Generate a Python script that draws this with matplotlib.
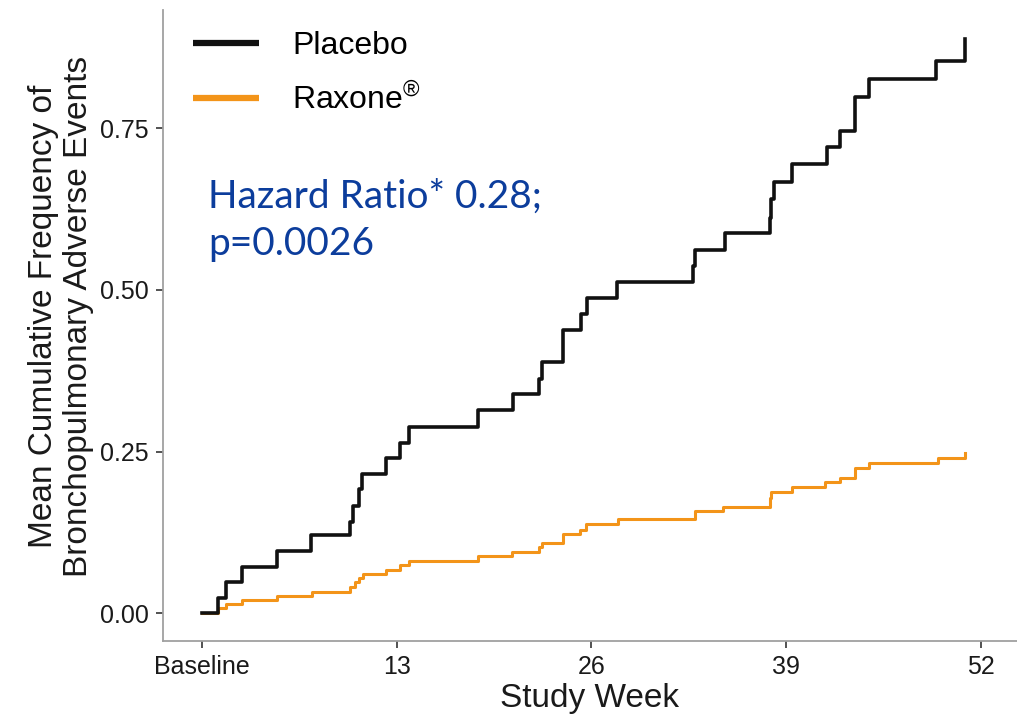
import matplotlib
matplotlib.use("Agg")
import matplotlib.pyplot as plt
from matplotlib.lines import Line2D

plt.rcParams['font.family'] = ['Liberation Sans', 'DejaVu Sans']
plt.rcParams['mathtext.fontset'] = 'custom'
plt.rcParams['mathtext.rm'] = 'Liberation Sans'
plt.rcParams['mathtext.it'] = 'Liberation Sans'
plt.rcParams['mathtext.bf'] = 'Liberation Sans'

# ---- data ----
placebo_weeks = [0, 1.07, 1.6, 2.7, 5.0, 7.3, 9.9, 10.1, 10.5, 10.7, 12.3, 13.2, 13.8,
                 18.4, 20.75, 22.5, 22.7, 24.1, 25.3, 25.7, 27.7, 32.8, 32.9, 34.9,
                 37.9, 38.0, 38.2, 39.4, 41.7, 42.6, 43.6, 44.5, 49.0, 50.9]
placebo_mcf = [0.0, 0.024, 0.048, 0.072, 0.096, 0.121, 0.141, 0.166, 0.192, 0.216, 0.240,
               0.264, 0.288, 0.314, 0.339, 0.363, 0.389, 0.438, 0.463, 0.488, 0.512,
               0.537, 0.562, 0.588, 0.612, 0.640, 0.667, 0.695, 0.721, 0.746, 0.799,
               0.826, 0.854, 0.888]

raxone_weeks = [0, 1.1, 1.6, 2.7, 5.0, 7.35, 9.9, 10.2, 10.5, 10.75, 12.3, 13.2, 13.8,
                18.4, 20.7, 22.5, 22.7, 24.1, 25.2, 25.6, 27.8, 32.9, 34.8, 37.9, 38.0,
                39.4, 41.6, 42.6, 43.6, 44.5, 49.1, 50.9]
raxone_mcf = [0.0, 0.008, 0.014, 0.021, 0.027, 0.033, 0.041, 0.048, 0.054, 0.061, 0.067,
              0.074, 0.081, 0.089, 0.095, 0.102, 0.109, 0.123, 0.129, 0.138, 0.146,
              0.158, 0.164, 0.178, 0.188, 0.195, 0.203, 0.209, 0.225, 0.232, 0.240, 0.248]

series_labels = ['Placebo', r'Raxone$^{\mathrm{®}}$']
x_ticks = [0, 13, 26, 39, 52]
x_ticklabels = ['Baseline', '13', '26', '39', '52']
y_ticks = [0.0, 0.25, 0.50, 0.75]
y_ticklabels = ['0.00', '0.25', '0.50', '0.75']
annotation_lines = ['Hazard Ratio* 0.28;', 'p=0.0026']

# ---- figure ----
W, H = 1017, 718
fig = plt.figure(figsize=(W / 100, H / 100), dpi=100)
ax_left, ax_right, ax_top, ax_bottom = 163, 1017, 10, 641
ax = fig.add_axes([ax_left / W, 1 - ax_bottom / H, (ax_right - ax_left) / W, (ax_bottom - ax_top) / H])

black = '#111111'
orange = '#F39419'
ax.step(placebo_weeks, placebo_mcf, where='post', color=black, lw=2.6, zorder=3)
ax.step(raxone_weeks, raxone_mcf, where='post', color=orange, lw=2.2, zorder=2)

ax.set_xlim(-2.6, 54.4)
ax.set_ylim(-0.0428, 0.933)
ax.set_xticks(x_ticks)
ax.set_xticklabels(x_ticklabels)
ax.set_yticks(y_ticks)
ax.set_yticklabels(y_ticklabels)

for s in ['top', 'right']:
    ax.spines[s].set_visible(False)
for s in ['left', 'bottom']:
    ax.spines[s].set_color('#a0a0a0')
    ax.spines[s].set_linewidth(1.3)

ax.tick_params(axis='both', length=5, width=1.3, color='#444444', labelsize=18,
               labelcolor='#1a1a1a', pad=5)

ax.set_xlabel('Study Week', fontsize=24, color='#1a1a1a', labelpad=3)
ax.set_ylabel('Mean Cumulative Frequency of\nBronchopulmonary Adverse Events',
              fontsize=24, color='#1a1a1a', linespacing=1.15)
ax.yaxis.set_label_coords(-(ax_left - 94) / (ax_right - ax_left), 0.515)

handles = [Line2D([], [], color=black, lw=4.5, solid_capstyle='butt'),
           Line2D([], [], color=orange, lw=4.5, solid_capstyle='butt')]
leg = ax.legend(handles, series_labels, loc='upper left',
                bbox_to_anchor=(193 / W, 1 - 31 / H), bbox_transform=fig.transFigure,
                frameon=False, fontsize=23, handlelength=2.07, handletextpad=1.03,
                labelspacing=0.71, borderpad=0, borderaxespad=0)

blue = '#0c3d9c'
ax.text((208 - ax_left) / (ax_right - ax_left), (ax_bottom - 208) / (ax_bottom - ax_top),
        annotation_lines[0], transform=ax.transAxes, fontsize=28, color=blue,
        family='Lato', va='baseline', ha='left')
ax.text((208 - ax_left) / (ax_right - ax_left), (ax_bottom - 255) / (ax_bottom - ax_top),
        annotation_lines[1], transform=ax.transAxes, fontsize=28, color=blue,
        family='Lato', va='baseline', ha='left')

fig.savefig('out.png', dpi=100)
